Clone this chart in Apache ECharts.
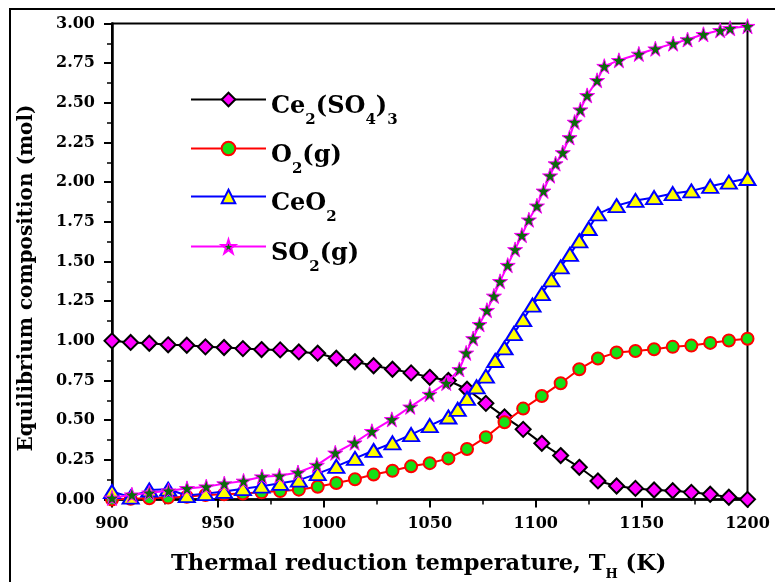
<!DOCTYPE html>
<html>
<head>
<meta charset="utf-8">
<script src="https://cdn.jsdelivr.net/npm/echarts@6/dist/echarts.min.js"></script>
<style>
  html, body { margin: 0; padding: 0; background: #fff; }
  #chart { width: 775px; height: 582px; }
</style>
</head>
<body>
<div id="chart"></div>
<script>
// Equilibrium composition of the Ce2(SO4)3 thermal reduction vs temperature (K)
const FONT = 'DejaVu Serif';

// Ce2(SO4)3 and O2(g) share the same temperature grid
const sulfateT = [900, 908.8, 917.6, 926.5, 935.3, 944.1, 952.9, 961.8, 970.6, 979.4, 988.2, 997.1,
  1005.9, 1014.7, 1023.5, 1032.4, 1041.2, 1050, 1058.8, 1067.6, 1076.5, 1085.3, 1094.1, 1102.9,
  1111.8, 1120.6, 1129.4, 1138.2, 1147.1, 1155.9, 1164.7, 1173.5, 1182.4, 1191.2, 1200];
const sulfateMol = [1.0, 0.99, 0.985, 0.975, 0.972, 0.962, 0.958, 0.951, 0.945, 0.943, 0.930, 0.922,
  0.890, 0.868, 0.843, 0.821, 0.798, 0.770, 0.750, 0.695, 0.606, 0.521, 0.442, 0.354,
  0.277, 0.203, 0.117, 0.085, 0.070, 0.060, 0.055, 0.045, 0.033, 0.014, 0.001];
const oxygenMol = [0.0, 0.004, 0.008, 0.012, 0.017, 0.028, 0.033, 0.038, 0.045, 0.053, 0.062, 0.080,
  0.104, 0.128, 0.157, 0.181, 0.209, 0.229, 0.259, 0.318, 0.393, 0.487, 0.573, 0.652,
  0.733, 0.821, 0.889, 0.927, 0.936, 0.947, 0.962, 0.970, 0.987, 1.002, 1.013];

// CeO2 (finer steps through the transition)
const ceriaT = [900, 908.8, 917.6, 926.5, 935.3, 944.1, 952.9, 961.8, 970.6, 979.4, 988.2, 997.1,
  1005.9, 1014.7, 1023.5, 1032.4, 1041.2, 1050, 1058.8, 1063.2, 1067.6, 1072.1, 1076.5, 1080.9,
  1085.3, 1089.7, 1094.1, 1098.5, 1102.9, 1107.4, 1111.8, 1116.2, 1120.6, 1125, 1129.4, 1138.2,
  1147.1, 1155.9, 1164.7, 1173.5, 1182.4, 1191.2, 1200];
const ceriaMol = [0.05, 0.015, 0.06, 0.065, 0.025, 0.037, 0.051, 0.068, 0.084, 0.102, 0.122, 0.163,
  0.209, 0.259, 0.309, 0.357, 0.409, 0.466, 0.520, 0.568, 0.637, 0.710, 0.777, 0.876,
  0.955, 1.046, 1.134, 1.225, 1.297, 1.384, 1.466, 1.545, 1.630, 1.708, 1.800, 1.852,
  1.885, 1.903, 1.928, 1.945, 1.974, 2.000, 2.023];

// SO2(g)
const so2T = [900, 909.4, 917.6, 926.7, 935.4, 944.5, 953, 962.1, 970.8, 979, 987.8, 996.7,
  1005.4, 1014.5, 1022.7, 1032.1, 1040.8, 1049.9, 1057.8, 1064, 1067.2, 1070.5, 1073.5, 1077,
  1080.3, 1083.2, 1086.8, 1090.3, 1093.5, 1096.8, 1100.6, 1103.7, 1106.8, 1109.4, 1112.8, 1116,
  1118.4, 1121.1, 1124.3, 1129, 1132.4, 1139.3, 1148.7, 1156.5, 1164.9, 1171.7, 1179.2, 1187.1,
  1191.8, 1200];
const so2Mol = [0.01, 0.03, 0.042, 0.055, 0.07, 0.081, 0.10, 0.117, 0.144, 0.149, 0.17, 0.217,
  0.294, 0.358, 0.43, 0.505, 0.584, 0.664, 0.734, 0.82, 0.924, 1.015, 1.104, 1.193,
  1.283, 1.375, 1.477, 1.576, 1.666, 1.763, 1.851, 1.945, 2.041, 2.117, 2.187, 2.282,
  2.379, 2.457, 2.547, 2.642, 2.731, 2.768, 2.808, 2.841, 2.873, 2.899, 2.932, 2.957,
  2.970, 2.983];

const seriesNames = ['Ce2(SO4)3', 'O2(g)', 'CeO2', 'SO2(g)'];
const legendLabels = {
  'Ce2(SO4)3': '{b|Ce}{s|2}{b|(SO}{s|4}{b|)}{s|3}',
  'O2(g)': '{b|O}{s|2}{b|(g)}',
  'CeO2': '{b|CeO}{s|2}',
  'SO2(g)': '{b|SO}{s|2}{b|(g)}'
};
const legendRows = [95, 144, 192, 242];
const yTitle = 'Equilibrium composition (mol)';

const pairs = (xs, ys) => xs.map((x, i) => [x, ys[i]]);
const STAR = 'path://M50 0 L61.23 34.55 L97.55 34.55 L68.16 55.9 L79.39 90.45 L50 69.1 L20.61 90.45 L31.84 55.9 L2.45 34.55 L38.77 34.55 Z';

const richLegend = {
  b: { fontFamily: FONT, fontWeight: 'bold', fontSize: 24, lineHeight: 26, padding: [8, 0, 0, 0], verticalAlign: 'top', color: '#000' },
  s: { fontFamily: FONT, fontWeight: 'bold', fontSize: 15, lineHeight: 16, padding: [26, 0, 0, 0], verticalAlign: 'top', color: '#000' }
};
const richTitle = {
  b: { fontFamily: FONT, fontWeight: 'bold', fontSize: 22.5, lineHeight: 24, padding: [6, 0, 0, 0], verticalAlign: 'top', color: '#000' },
  s: { fontFamily: FONT, fontWeight: 'bold', fontSize: 13, lineHeight: 14, padding: [22, 0, 0, 0], verticalAlign: 'top', color: '#000' }
};

const chart = echarts.init(document.getElementById('chart'), null, { renderer: 'canvas' });

const axisCommon = {
  type: 'value',
  splitLine: { show: false },
  axisLine: { show: true, lineStyle: { color: '#000', width: 2.5 } },
  axisTick: { show: true, inside: false, length: 8, lineStyle: { color: '#000', width: 2 } },
  minorTick: { show: true, splitNumber: 2, length: 5, lineStyle: { color: '#000', width: 1.5 } },
  axisLabel: { color: '#000', fontFamily: FONT, fontWeight: 'bold', fontSize: 16 }
};

chart.setOption({
  animation: false,
  backgroundColor: '#fff',
  graphic: [
    {
      type: 'rect', z: -10, silent: true,
      shape: { x: 10, y: 9, width: 800, height: 700 },
      style: { fill: 'none', stroke: '#000', lineWidth: 2 }
    },
    {
      type: 'text', silent: true,
      x: 27, y: 278, rotation: Math.PI / 2,
      style: {
        text: yTitle, fill: '#000', font: 'bold 20px "DejaVu Serif"',
        align: 'center', verticalAlign: 'middle'
      }
    }
  ],
  grid: {
    left: 112, right: 27.5, top: 23.5, bottom: 82.5,
    outerBoundsMode: 'none', containLabel: false,
    show: true, borderColor: '#000', borderWidth: 2, backgroundColor: 'transparent'
  },
  legend: seriesNames.map((n, i) => ({
    data: [n],
    orient: 'vertical',
    left: 190,
    top: legendRows[i] - 8.5,
    padding: 0,
    itemWidth: 75,
    itemHeight: 17,
    selectedMode: false,
    formatter: name => legendLabels[name],
    textStyle: { rich: richLegend }
  })),
  xAxis: Object.assign({}, axisCommon, {
    min: 900, max: 1200, interval: 50,
    axisLabel: Object.assign({}, axisCommon.axisLabel, { margin: 16, formatter: v => String(v) }),
    name: '{b|Thermal reduction temperature, T}{s|H}{b| (K)}',
    nameLocation: 'middle',
    nameGap: 47,
    nameTextStyle: { rich: richTitle, padding: [0, 22, 0, 0] }
  }),
  yAxis: Object.assign({}, axisCommon, {
    min: 0, max: 3, interval: 0.25,
    axisLabel: Object.assign({}, axisCommon.axisLabel, { margin: 17, formatter: v => v.toFixed(2) })
  }),
  series: [
    {
      name: seriesNames[0], type: 'line', data: pairs(sulfateT, sulfateMol),
      symbol: 'diamond', symbolSize: 15,
      lineStyle: { color: '#000', width: 2 },
      itemStyle: { color: '#ff00ff', borderColor: '#000', borderWidth: 2 },
      z: 2
    },
    {
      name: seriesNames[1], type: 'line', data: pairs(sulfateT, oxygenMol),
      symbol: 'circle', symbolSize: 12,
      lineStyle: { color: '#ff0000', width: 2 },
      itemStyle: { color: '#16e016', borderColor: '#ff0000', borderWidth: 2 },
      z: 3
    },
    {
      name: seriesNames[2], type: 'line', data: pairs(ceriaT, ceriaMol),
      symbol: 'triangle', symbolSize: [16, 13],
      lineStyle: { color: '#0000ff', width: 2 },
      itemStyle: { color: '#ffff00', borderColor: '#0000ff', borderWidth: 2 },
      z: 4
    },
    {
      name: seriesNames[3], type: 'line', data: pairs(so2T, so2Mol),
      symbol: STAR, symbolSize: 15,
      lineStyle: { color: '#ff00ff', width: 2 },
      itemStyle: { color: '#0b6b0b', borderColor: '#ff00ff', borderWidth: 1 },
      z: 5
    }
  ]
});
</script>
</body>
</html>
